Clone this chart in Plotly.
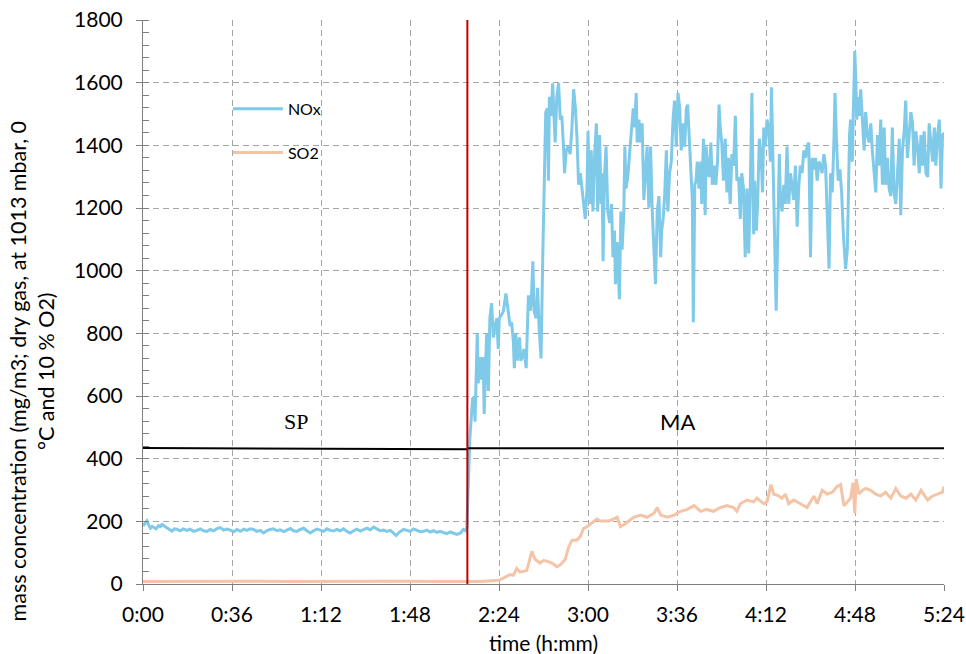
import plotly.graph_objects as go

# ---------------- data (time in minutes since start) ----------------
nox_t = [0, 0.8, 1.6, 2.3, 3.0, 3.7, 4.3, 5.3, 6.3, 7.0, 7.7, 8.7, 9.7, 10.7, 11.7, 12.7, 13.7, 15.0, 16.3, 17.8,
         19.0, 20.5, 21.8, 23.2, 24.5, 25.9, 27.2, 28.6, 30.0, 31.3, 32.6, 34.0, 35.3, 36.7, 38.0, 39.4, 40.8, 42.0,
         43.4, 44.7, 46.0, 47.4, 48.8, 50.0, 51.4, 52.8, 54.2, 55.5, 56.9, 58.2, 59.6, 60.9, 62.3, 63.6, 65.0, 66.3,
         67.7, 69.0, 70.4, 71.7, 73.1, 74.4, 75.8, 77.1, 78.4, 79.8, 81.1, 82.5, 83.8, 85.2, 86.5, 87.9, 89.2, 90.6,
         91.9, 93.3, 94.6, 96.0, 97.3, 98.7, 100.0, 101.3, 102.4, 103.6, 104.5, 105.4, 106.8, 108.1, 109.4, 110.8,
         112.1, 113.5, 114.8, 116.2, 117.5, 118.9, 120.2, 121.6, 122.9, 124.3, 125.6, 127.0, 128.3, 129.6, 130.5,
         131.0,
         132.2, 133.3, 133.9, 134.3, 135.2, 135.6, 136.3, 137.0, 137.6, 138.0, 138.6, 139.0, 139.7, 140.3, 141.0,
         141.7, 142.4, 143.1, 143.7, 144.1, 145.1, 145.8, 146.8, 147.8, 148.5, 149.1, 149.8, 150.2, 150.8, 151.4,
         152.3, 152.8, 153.5, 154.1, 155.0, 155.5, 155.9, 156.6, 157.0, 157.7, 158.2, 159.0, 159.6, 160.2, 160.6,
         161.0, 161.7, 162.3, 162.9, 163.6, 164.0, 164.4, 165.1, 165.7, 166.2, 166.7, 167.4, 168.1, 168.8, 169.4,
         170.1, 170.5, 171.2, 171.9, 172.8, 173.5, 174.2, 174.9, 175.5, 176.2, 176.9, 177.6, 178.2, 178.9, 179.6,
         180.0, 180.7, 181.3, 182.0, 182.7, 183.4, 183.9, 184.7, 185.3, 185.7, 186.1, 186.6, 187.3, 188.0, 188.8,
         189.5, 190.1, 190.7, 191.1, 191.8, 192.2, 192.7, 193.3, 193.8, 194.5, 194.9, 195.4, 196.1, 196.8, 197.5,
         198.3, 198.8, 199.5, 199.9, 200.6, 201.2, 201.9, 202.6, 203.3, 203.9, 204.6, 205.3, 206.0, 206.7, 207.3,
         208.0, 208.7, 209.4, 209.8, 210.4, 211.0, 211.7, 212.3, 213.0, 213.7, 214.4, 215.0, 215.7, 216.4, 217.1,
         217.7, 218.4, 219.1, 219.8, 220.3, 220.9, 221.5, 222.2, 222.6, 223.2, 223.7, 224.2, 224.9, 225.6,
         226.0, 226.7, 227.4, 227.8, 228.3, 229.0, 229.7, 230.3, 231.0, 231.7, 232.4, 233.0, 233.5, 234.1, 234.8,
         235.5, 236.2, 236.8, 237.5, 238.2, 238.9, 239.6, 240.2, 240.9, 241.6, 242.2, 242.9, 243.6, 244.3, 245.0,
         245.6, 246.3, 247.0, 247.4, 248.1, 248.6, 249.3, 250.0, 250.6, 251.1, 251.7, 252.4, 253.1, 253.8, 254.2,
         254.8, 255.4, 256.1, 256.7, 257.4, 257.8, 258.5, 259.2, 259.8, 260.5, 261.2, 261.9, 262.6, 263.2, 263.9,
         264.6, 265.3, 265.9, 266.6, 267.3, 268.0, 268.6, 269.3, 270.0, 270.7, 271.4, 272.0, 272.7, 273.4, 274.1,
         274.7, 275.4, 276.1, 276.8, 277.5, 278.1, 278.8, 279.5, 279.9, 280.6, 281.2, 281.9, 282.6, 283.3, 283.8,
         284.2, 284.9, 285.3, 285.8, 286.2, 286.9, 287.3, 287.9, 288.3, 288.7, 289.2, 289.9, 290.3, 291.0, 291.7,
         292.3, 293.0, 293.7, 294.4, 295.0, 295.7, 296.4, 297.1, 297.7, 298.4, 299.1, 299.8, 300.4, 301.1, 301.8,
         302.5, 303.1, 303.8, 304.5, 305.2, 305.9, 306.5, 307.2, 307.9, 308.5, 309.2, 309.9, 310.6, 311.3, 311.9,
         312.6, 313.3, 314.0, 314.7, 315.3, 316.0, 316.7, 317.4, 318.0, 318.7, 319.4, 320.1, 320.7, 321.4, 322.1,
         322.8, 323.4, 324.0]
nox_v = [185, 195, 201, 188, 178, 184, 181, 176, 186, 183, 190, 184, 178, 174, 169, 176, 175, 170, 176, 171,
         175, 168, 171, 176, 170, 168, 174, 170, 177, 180, 172, 175, 172, 167, 174, 168, 175, 171,
         176, 174, 168, 171, 163, 170, 174, 176, 170, 173, 167, 171, 177, 170, 168, 174, 178, 170,
         163, 170, 175, 172, 168, 176, 171, 169, 174, 170, 176, 168, 163, 170, 175, 169, 174, 178,
         173, 182, 176, 170, 172, 168, 171, 163, 155, 165, 170, 174, 171, 168, 176, 172,
         167, 168, 172, 166, 170, 165, 168, 164, 161, 166, 163, 158, 162, 174, 170,
         180,
         463, 591, 597, 518, 799, 640, 724, 652, 724, 543, 701, 799, 616, 848, 896,
         787, 823, 848, 750, 848, 860, 872, 927, 872, 823, 835, 774, 689, 799, 713,
         787, 713, 726, 750, 689, 823, 921, 872, 896, 1030, 872, 848, 945, 823, 762,
         720, 1043, 1250, 1506, 1518, 1287, 1555, 1494, 1598, 1494, 1409, 1555, 1598, 1482, 1494,
         1396, 1311, 1384, 1396, 1372, 1457, 1579, 1518, 1433, 1274, 1311, 1262, 1226, 1165, 1262,
         1445, 1213, 1384, 1189, 1372, 1470, 1189, 1433, 1213, 1311, 1030, 1287, 1396, 1189, 1152,
         1213, 1043, 1128, 957, 1091, 1018, 909, 1189, 1067, 1189, 1396, 1262, 1299, 1372, 1457,
         1518, 1457, 1567, 1409, 1482, 1409, 1470, 1226, 1311, 1396, 1201, 1396, 1189, 1067, 957,
         1189, 1238, 1043, 1128, 1165, 1238, 1384, 1189, 1311, 1348, 1482, 1543, 1396, 1567, 1518,
         1384, 1470, 1396, 1518, 1530, 1433, 1336, 1226, 835, 1274, 1287, 1348, 1262, 1348,
         1213, 1421, 1177, 1396, 1335, 1299, 1409, 1274, 1335, 1274, 1348, 1530, 1457, 1409, 1287,
         1421, 1250, 1360, 1213, 1372, 1335, 1494, 1287, 1299, 1165, 1311, 1262, 1043, 1262, 1055,
         1250, 1567, 1116, 1287, 1128, 1213, 1421, 1372, 1250, 1457, 1396, 1482, 1457, 1348, 1585,
         1372, 1189, 872, 1091, 1372, 1226, 1189, 1274, 1213, 1396, 1213, 1311, 1262, 1226, 1335,
         1140, 1274, 1335, 1311, 1384, 1360, 1396, 1409, 1043, 1360, 1323, 1360, 1287, 1348, 1335,
         1311, 1372, 1335, 1128, 1006, 1311, 1250, 1421, 1567, 1396, 1287, 1323, 1250, 1116, 1055,
         1006, 1067, 1311, 1433, 1482, 1348, 1494, 1701, 1616, 1482, 1555, 1494, 1579, 1457, 1384,
         1506, 1433, 1409, 1470, 1384, 1311, 1250, 1433, 1335, 1482, 1274, 1457, 1274, 1360, 1262,
         1238, 1457, 1250, 1213, 1311, 1421, 1177, 1384, 1445, 1543, 1360, 1421, 1506, 1470, 1335,
         1445, 1396, 1311, 1433, 1335, 1445, 1311, 1299, 1470, 1409, 1348, 1457, 1335, 1433, 1482,
         1262, 1433, 1440]

so2_t = [0, 15, 30, 45, 60, 75, 90, 105, 120, 131.1, 136.3, 144.0, 148.5, 149.8, 151.2, 152.5, 155.2, 157.3,
         158.6, 160.6, 162.0, 163.4, 165.4, 167.4, 168.8, 170.8, 172.1, 173.5, 175.5, 176.9, 178.2, 179.6, 181.6,
         183.6, 185.0, 186.4, 188.4, 190.4, 191.8, 193.1, 194.5, 196.5, 198.5, 201.2, 203.9, 206.7, 208.0, 209.4,
         212.1, 214.8, 217.5, 220.2, 222.9, 225.6, 228.0, 230.8, 233.5, 236.2, 238.9, 240.2, 241.6, 244.3, 247.0,
         248.3, 251.1, 252.4, 254.0, 255.1, 257.1, 258.5, 259.8, 261.2, 263.2, 265.9, 268.6, 271.4, 272.7, 274.7,
         276.8, 278.8, 280.8, 282.2, 283.5, 284.9, 286.2, 287.2, 287.9, 288.5, 289.6, 291.0, 292.3, 294.4, 296.4,
         298.4, 300.4, 302.5, 304.5, 306.5, 308.6, 310.6, 312.6, 314.7, 317.4, 319.4, 321.4, 323.4, 324.0]
so2_v = [8, 9, 8, 9, 8, 9, 8, 9, 8, 8, 8, 12, 30, 28, 50, 38, 43, 104,
         79, 67, 75, 73, 67, 55, 61, 79, 116, 140, 140, 152, 177, 183, 195,
         207, 201, 201, 201, 207, 213, 183, 189, 201, 213, 220, 213, 226, 244, 220,
         213, 220, 232, 238, 250, 232, 238, 232, 244, 250, 244, 232, 256, 268, 262,
         274, 256, 262, 317, 287, 281, 274, 287, 256, 268, 256, 244, 281, 256, 299,
         287, 293, 311, 317, 250, 262, 274, 323, 225, 335, 287, 299, 305, 299, 287,
         281, 293, 274, 305, 281, 274, 287, 268, 299, 268, 281, 287, 293, 311]

# phase marker (SP -> MA) and phase level line
phase_change_t = 131.2
phase_line_t = [0, 131.2, None, 131.2, 324]
phase_line_v = [434, 430, None, 433, 433]
phase_labels = ["SP", "MA"]
phase_label_t = [62, 216]
phase_label_v = [520, 520]

x_tickvals = [0, 36, 72, 108, 144, 180, 216, 252, 288, 324]
x_ticktext = ["0:00", "0:36", "1:12", "1:48", "2:24", "3:00", "3:36", "4:12", "4:48", "5:24"]

# ---------------- figure ----------------
FONT = "Lato, Carlito, 'Liberation Sans', sans-serif"
GRID = "#A6A6A6"
AXIS = "#7F7F7F"

fig = go.Figure()
fig.add_trace(go.Scatter(x=nox_t, y=nox_v, mode="lines", name="NOx",
                         line=dict(color="#7FC9E9", width=3), legendgroup="a"))
fig.add_trace(go.Scatter(x=so2_t, y=so2_v, mode="lines", name="SO2",
                         line=dict(color="#F5C3A6", width=3), legendgroup="b"))
fig.add_trace(go.Scatter(x=phase_line_t, y=phase_line_v, mode="lines", showlegend=False,
                         line=dict(color="black", width=2), connectgaps=False, hoverinfo="skip"))
fig.add_trace(go.Scatter(x=[phase_change_t, phase_change_t], y=[0, 1800], mode="lines", showlegend=False,
                         line=dict(color="#C00000", width=2), hoverinfo="skip"))

fig.add_annotation(x=phase_label_t[0], y=phase_label_v[0], text=phase_labels[0], showarrow=False,
                   font=dict(family="'Liberation Serif', 'DejaVu Serif', serif", size=22, color="black"))
fig.add_annotation(x=phase_label_t[1], y=phase_label_v[1], text=phase_labels[1], showarrow=False,
                   font=dict(family=FONT, size=22, color="black"))

fig.add_annotation(xref="paper", yref="paper", x=-0.139, y=0.378, xanchor="center", yanchor="middle",
                   text="mass concentration (mg/m3; dry gas, at 1013 mbar, 0<br>°C and 10 % O2)",
                   textangle=-90, showarrow=False, font=dict(family=FONT, size=21.5, color="black"))
fig.add_annotation(xref="paper", yref="paper", x=0.5, y=-0.1046, xanchor="center", yanchor="middle",
                   text="time (h:mm)", showarrow=False, font=dict(family=FONT, size=21, color="black"))

fig.update_layout(
    width=966, height=654,
    margin=dict(l=143, r=22, t=20, b=70, autoexpand=False),
    plot_bgcolor="white", paper_bgcolor="white",
    font=dict(family=FONT, size=21, color="black"),
    showlegend=True,
    legend=dict(x=0.106, y=0.8725, xanchor="left", yanchor="top", bgcolor="rgba(0,0,0,0)",
                font=dict(family=FONT, size=16, color="black"), tracegroupgap=20, itemwidth=50,
                traceorder="grouped"),
)
fig.update_xaxes(range=[0, 324], tickvals=x_tickvals, ticktext=x_ticktext, automargin=False,
                 showgrid=True, gridcolor=GRID, griddash="6px,4px", gridwidth=1,
                 showline=True, linecolor=AXIS, linewidth=1, ticks="outside", ticklen=6, tickcolor=AXIS,
                 ticklabelstandoff=6, ticklabeloverflow="allow", zeroline=False, tickfont=dict(size=21))
fig.update_yaxes(range=[0, 1800], dtick=200, tick0=0, automargin=False,
                 showgrid=True, gridcolor=GRID, griddash="6px,4px", gridwidth=1,
                 showline=True, linecolor=AXIS, linewidth=1, ticks="outside", ticklen=6, tickcolor=AXIS,
                 minor=dict(dtick=40, ticks="inside", ticklen=6, tickcolor=AXIS, showgrid=False),
                 ticklabelstandoff=9, ticklabeloverflow="allow", zeroline=False, tickfont=dict(size=21))

# remove the browser's default 8px body margin so the figure fills the page
fig.write_html("out.html", config={"displayModeBar": False},
               post_script="document.body.style.margin='0px';")
